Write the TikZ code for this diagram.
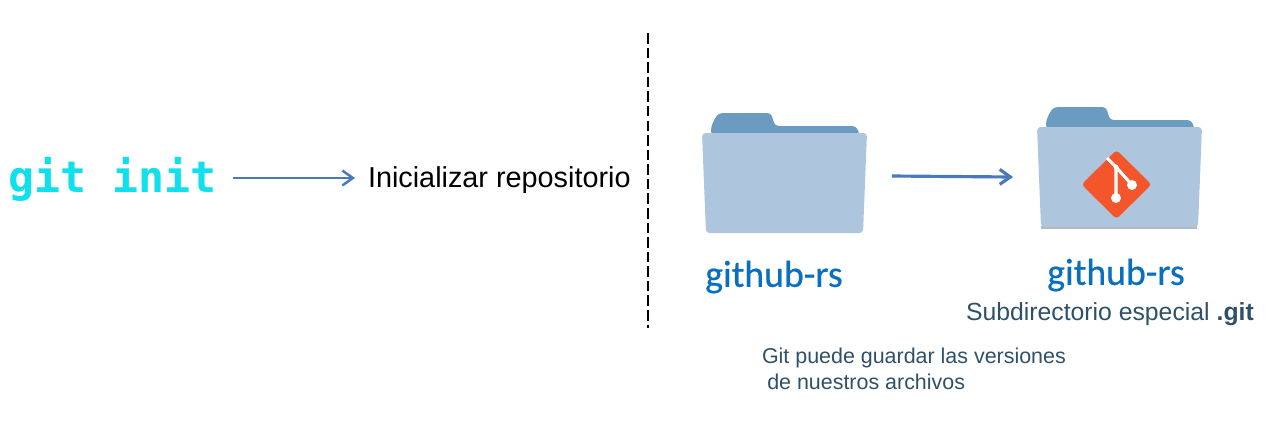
\documentclass[tikz,border=0pt]{standalone}
\usepackage{fontspec}
\setmainfont{Liberation Sans}
\newfontfamily\gitcodefont{DejaVu Sans Mono}
\newfontfamily\foldernamefont[FakeBold=0.5]{Carlito}
\usepackage{tikz}
\usetikzlibrary{arrows.meta,positioning,calc}

\definecolor{codecyan}{HTML}{10E0EC}
\definecolor{arrowblue}{HTML}{4A78BE}
\definecolor{folderfront}{HTML}{AEC6DD}
\definecolor{folderback}{HTML}{6C9BC1}
\definecolor{foldershade}{HTML}{B4BAC0}
\definecolor{namecolor}{HTML}{0B6FC0}
\definecolor{notecolor}{HTML}{2F5068}
\definecolor{gitlogo}{HTML}{F4552A}

\begin{document}
\begin{tikzpicture}[
  x=0.02cm, y=-0.02cm,
  every node/.style={inner sep=0pt, outer sep=0pt},
  solidarrow/.style={
    -{Straight Barb[length=6pt, width=8.5pt]}, line width=1.4pt, arrowblue
  },
  cuebox/.style={
    font=\fontsize{16.4}{20}\selectfont, text=black, anchor=west,
    inner xsep=0.26cm, text height=14.7pt, text depth=3.4pt
  },
  codebox/.style={
    font=\gitcodefont\bfseries\fontsize{24.6}{28}\selectfont, text=codecyan,
    inner xsep=0.33cm, text height=22.2pt, text depth=5.8pt
  },
  namebox/.style={
    font=\foldernamefont\fontsize{21.5}{24}\selectfont, text=namecolor
  },
  notebox/.style={
    text=notecolor, anchor=west, align=left
  },
  folderbox/.style={minimum width=4.3cm, minimum height=0.4cm},
  folder/.pic={
    \fill[folderback, rounded corners=2pt] (9,14) -- (13,5) -- (17,0) -- (69,0)
      -- (73,13) -- (154,13) -- (158,22) -- (9,22) -- cycle;
    \fill[folderfront, rounded corners=2pt] (0,20) -- (165,20) -- (161,120)
      -- (4,120) -- cycle;
  },
]

% --- Background ---
\useasboundingbox (0,0) rectangle (1277,424);

% --- Nodes ---
\node[codebox] (gitinit) at (112.5,178) {git init};
\node[cuebox] (initlabel) at (355,178) {Inicializar repositorio};

\node[folderbox] (plainfolder) at (784.5,176) {};
\node[folderbox] (gitfolder) at (1120.5,177) {};

\node[namebox] (plainname) at (774,277) {github-rs};
\node[namebox] (gitname) at (1116,275) {github-rs};

\node[notebox, font=\fontsize{14.1}{17}\selectfont] (subdir) at (966,314)
  {Subdirectorio especial \textbf{.git}};
\node[notebox, font=\fontsize{12.2}{15}\selectfont] (savenote) at (762,369)
  {Git puede guardar las versiones\\\hspace*{3pt}de nuestros archivos};

% --- Folders ---
\pic at (702,113) {folder};
\fill[foldershade] (1041,226) rectangle (1197,229);
\pic at (1037,107) {folder};

% --- Git logo ---
\fill[gitlogo, rounded corners=2pt] (1116.5,150) -- (1151.5,184.5) -- (1116.5,219)
  -- (1081.5,184.5) -- cycle;
\draw[white, line width=1.8pt] (1107,158) -- (1116,167) -- (1116,198)
  (1116,167) -- (1132,185);
\fill[white] (1116,198) circle (5) (1132,185) circle (5) (1116,167) circle (2.5);

% --- Arrows ---
\draw[solidarrow] (gitinit.east) -- (initlabel.west);
\draw[solidarrow, line width=1.8pt] (plainfolder.east) -- (gitfolder.west);

% --- Divider ---
\coordinate (dividertop) at (648,33);
\coordinate (dividerbottom) at (648,328);
\draw[black, line width=1.5pt, dash pattern=on 6pt off 2.3pt] (dividertop) -- (dividerbottom);

\end{tikzpicture}
\end{document}
